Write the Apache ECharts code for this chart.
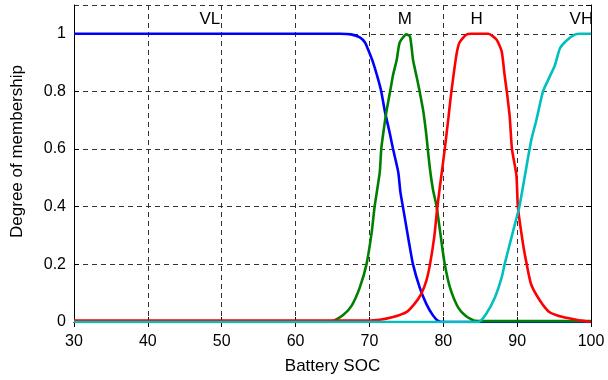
<!DOCTYPE html>
<html>
<head>
<meta charset="utf-8">
<script src="https://cdn.jsdelivr.net/npm/echarts@6/dist/echarts.min.js"></script>
<style>
  html, body { margin: 0; padding: 0; background: #fff; }
  #chart { width: 608px; height: 380px; }
</style>
</head>
<body>
<div id="chart"></div>
<script>
// membership curves, [soc, degree]
const vlData = [[30, 1], [60, 1], [66, 1], [67.5, 0.998], [68.7, 0.988], [69.4, 0.97], [69.9, 0.94],
  [70.5, 0.9], [71.2, 0.84], [71.6, 0.8], [72.1, 0.73], [72.8, 0.65], [73.2, 0.6], [73.9, 0.52],
  [74.2, 0.45], [74.6, 0.39], [75.4, 0.27], [75.9, 0.2], [76.8, 0.12], [77.7, 0.063], [78.6, 0.023],
  [79.3, 0.004], [80, 0], [90, 0], [100, 0]];

const mData = [[30, 0], [60, 0], [64, 0], [65.1, 0.004], [66.4, 0.023], [67.6, 0.057], [68.7, 0.12],
  [69.6, 0.2], [70.3, 0.31], [70.7, 0.4], [71.4, 0.52], [71.6, 0.6], [71.9, 0.66], [72.3, 0.73],
  [72.8, 0.8], [73.2, 0.857], [73.7, 0.91], [74.1, 0.97], [75, 0.998], [75.5, 0.99], [75.9, 0.91],
  [76.4, 0.85], [76.8, 0.8], [77.3, 0.73], [77.7, 0.65], [77.9, 0.6], [78.2, 0.53], [78.6, 0.46],
  [79.1, 0.4], [79.8, 0.27], [80.2, 0.2], [80.9, 0.12], [82, 0.051], [83.1, 0.02], [84.3, 0.004],
  [86, 0.003], [100, 0.003]];

const hData = [[30, 0.005], [60, 0.005], [68.7, 0.005], [71.4, 0.008], [73.2, 0.017], [75, 0.034],
  [76.1, 0.063], [77, 0.097], [77.7, 0.143], [78.2, 0.2], [78.8, 0.3], [79.2, 0.4], [79.8, 0.52],
  [80.2, 0.6], [80.7, 0.71], [81.1, 0.8], [81.8, 0.93], [82.2, 0.97], [83.1, 0.997], [83.8, 1],
  [86.1, 1], [87.2, 0.98], [87.9, 0.94], [88.3, 0.857], [88.6, 0.8], [89, 0.71], [89.3, 0.6],
  [89.9, 0.51], [90.1, 0.4], [90.8, 0.27], [91.3, 0.2], [91.9, 0.13], [93.1, 0.074], [94.4, 0.034],
  [96.2, 0.017], [98, 0.008], [99.6, 0.002], [100, 0]];

const vhData = [[30, 0], [60, 0], [84.7, 0], [85.8, 0.028], [87, 0.086], [87.9, 0.154], [88.3, 0.2],
  [89, 0.27], [89.7, 0.34], [90.3, 0.4], [91.1, 0.515], [91.9, 0.63], [92.6, 0.7], [93.5, 0.8],
  [94.2, 0.84], [95.1, 0.89], [95.8, 0.95], [96.7, 0.977], [97.8, 0.997], [98.5, 1], [100, 1]];

// set names and where their labels sit
const setNames = ['VL', 'M', 'H', 'VH'];
const setLabelPos = [[48.4, 1.052], [74.8, 1.052], [84.5, 1.052], [98.7, 1.052]];

const xTicks = { min: 30, max: 100, interval: 10 };
const yTicks = { min: 0, max: 1.1, interval: 0.2 };

const font = 'Liberation Sans, Arial, sans-serif';
const chart = echarts.init(document.getElementById('chart'));

function curve(name, data, color) {
  return {
    name: name,
    type: 'line',
    data: data,
    showSymbol: false,
    smooth: 0.2,
    lineStyle: { color: color, width: 2.6 },
    z: 3
  };
}

const gridLine = { show: true, lineStyle: { color: '#333', type: [5, 4], width: 1 } };
const boxAxisLine = { show: true, lineStyle: { color: '#000', width: 1 } };

const option = {
  animation: false,
  grid: { left: 74, right: 17, top: 5, bottom: 55 },
  xAxis: [{
    type: 'value',
    min: xTicks.min, max: xTicks.max, interval: xTicks.interval,
    name: 'Battery SOC',
    nameLocation: 'middle',
    nameGap: 36,
    nameTextStyle: { fontFamily: font, fontSize: 17, color: '#000' },
    axisLine: boxAxisLine,
    axisTick: { inside: true, length: 5, lineStyle: { color: '#000' } },
    axisLabel: { fontFamily: font, fontSize: 16, color: '#000', margin: 12 },
    splitLine: gridLine
  }, {
    type: 'value', position: 'top',
    min: xTicks.min, max: xTicks.max, interval: xTicks.interval,
    axisLine: boxAxisLine,
    axisTick: { inside: true, length: 5, lineStyle: { color: '#000' } },
    axisLabel: { show: false },
    splitLine: { show: false }
  }],
  yAxis: [{
    type: 'value',
    min: yTicks.min, max: yTicks.max, interval: yTicks.interval,
    name: 'Degree of membership',
    nameLocation: 'middle',
    nameGap: 48,
    nameTextStyle: { fontFamily: font, fontSize: 17, color: '#000', padding: [0, 0, 0, 24] },
    axisLine: boxAxisLine,
    axisTick: { inside: true, length: 5, lineStyle: { color: '#000' } },
    axisLabel: {
      fontFamily: font, fontSize: 16, color: '#000', margin: 8,
      showMaxLabel: false,
      formatter: v => (v > 1.0001 ? '' : String(Math.round(v * 10) / 10))
    },
    splitLine: gridLine
  }, {
    type: 'value', position: 'right',
    min: yTicks.min, max: yTicks.max, interval: yTicks.interval,
    axisLine: boxAxisLine,
    axisTick: { inside: true, length: 5, lineStyle: { color: '#000' } },
    axisLabel: { show: false },
    splitLine: { show: false }
  }],
  series: [
    curve('VL', vlData, '#0000ff'),
    curve('M', mData, '#008000'),
    curve('H', hData, '#ff0000'),
    curve('VH', vhData, '#00bfbf'),
    {
      name: 'labels',
      type: 'scatter',
      symbolSize: 1,
      itemStyle: { color: 'rgba(0,0,0,0)', opacity: 1 },
      data: setLabelPos.map((p, i) => ({ value: p, name: setNames[i] })),
      label: {
        show: true, position: 'inside',
        formatter: p => p.name,
        fontFamily: font, fontSize: 17, color: '#000', opacity: 1
      },
      z: 4
    }
  ]
};

chart.setOption(option);
</script>
</body>
</html>
